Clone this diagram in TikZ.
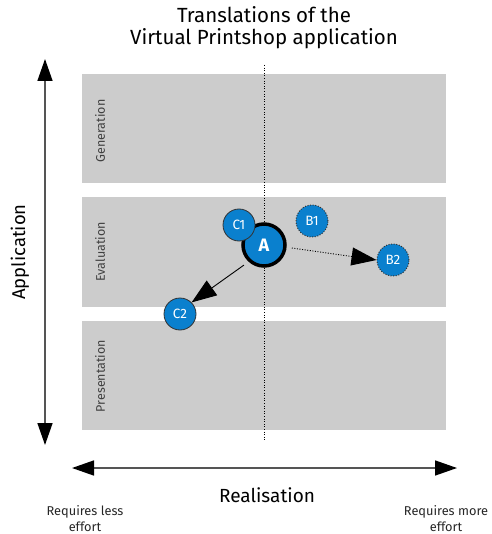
\documentclass[tikz,border=0pt]{standalone}
\usepackage{fontspec}
\setmainfont{Fira Sans}
\usetikzlibrary{arrows.meta}
\definecolor{band}{HTML}{CCCCCC}
\definecolor{dotblue}{HTML}{0A80CE}
\definecolor{axisgray}{HTML}{555555}
\tikzset{
  band/.style={fill=band, draw=none},
  bandlabel/.style={rotate=90, font=\fontsize{12.5}{14}\selectfont, text=black!75},
  bigtip/.style={-{Triangle[length=25pt,width=18pt,color=black]}},
  finedots/.style={dash pattern=on 1pt off 1.6pt},
  axis/.style={draw=axisgray, line width=1.5pt},
  small/.style={circle, fill=dotblue, draw=black!80, line width=0.8pt, minimum size=32pt, inner sep=0pt,
    text=white, font=\fontsize{13.5}{15}\selectfont},
  variant/.style={small, finedots, line width=1pt},
  main/.style={circle, fill=dotblue, draw=black, line width=3.5pt, minimum size=42pt, inner sep=0pt,
    text=white, font=\fontsize{18}{20}\selectfont\bfseries},
  caption/.style={font=\fontsize{20.5}{22}\selectfont, align=center},
  endnote/.style={font=\fontsize{12.8}{16}\selectfont, align=center, text=black!85}
}
\begin{document}
\begin{tikzpicture}[x=1pt,y=-1pt]
\useasboundingbox (0,0) rectangle (491,534);

% title
\node[caption] (title) at (264,28) {Translations of the\\Virtual Printshop application};

% three bands of the application axis
\path[band] (82,74) rectangle (446,183);
\path[band] (82,197) rectangle (446,307);
\path[band] (82,321) rectangle (446,430);
\node[bandlabel] (gen) at (100,131) {Generation};
\node[bandlabel] (eval) at (100,252) {Evaluation};
\node[bandlabel] (pres) at (100,376) {Presentation};

% middle divider
\coordinate (divtop) at (264,65);
\coordinate (divbot) at (264,440);
\draw[finedots, line width=0.9pt] (divtop) -- (divbot);

% vertical axis
\coordinate (vtop) at (45,59);
\coordinate (vbot) at (45,445);
\draw[axis, {Triangle[length=22pt,width=15pt,color=black]}-{Triangle[length=22pt,width=15pt,color=black]}] (vtop) -- (vbot);
\node[rotate=90, font=\fontsize{18.5}{22}\selectfont] (app) at (20,252) {Application};

% horizontal axis
\coordinate (hleft) at (72,468);
\coordinate (hright) at (457,468);
\draw[axis, {Triangle[length=22pt,width=15pt,color=black]}-{Triangle[length=22pt,width=15pt,color=black]}] (hleft) -- (hright);
\node[font=\fontsize{19}{21}\selectfont] (real) at (267,495) {Realisation};
\node[endnote] (less) at (85,519) {Requires less\\effort};
\node[endnote] (more) at (446,519) {Requires more\\effort};

% translations
\node[main] (A) at (264,245) {A};
\node[small] (C1) at (239,225) {C1};
\node[variant] (B1) at (312,221) {B1};
\node[variant] (B2) at (393,260) {B2};
\node[small] (C2) at (180,314) {C2};

\draw[bigtip, line width=0.9pt] (A.225) ++(-4,4) -- (C2.north east);
\draw[bigtip, finedots, line width=0.9pt] (A.east) ++(5,3) -- (B2.west);
\end{tikzpicture}
\end{document}
